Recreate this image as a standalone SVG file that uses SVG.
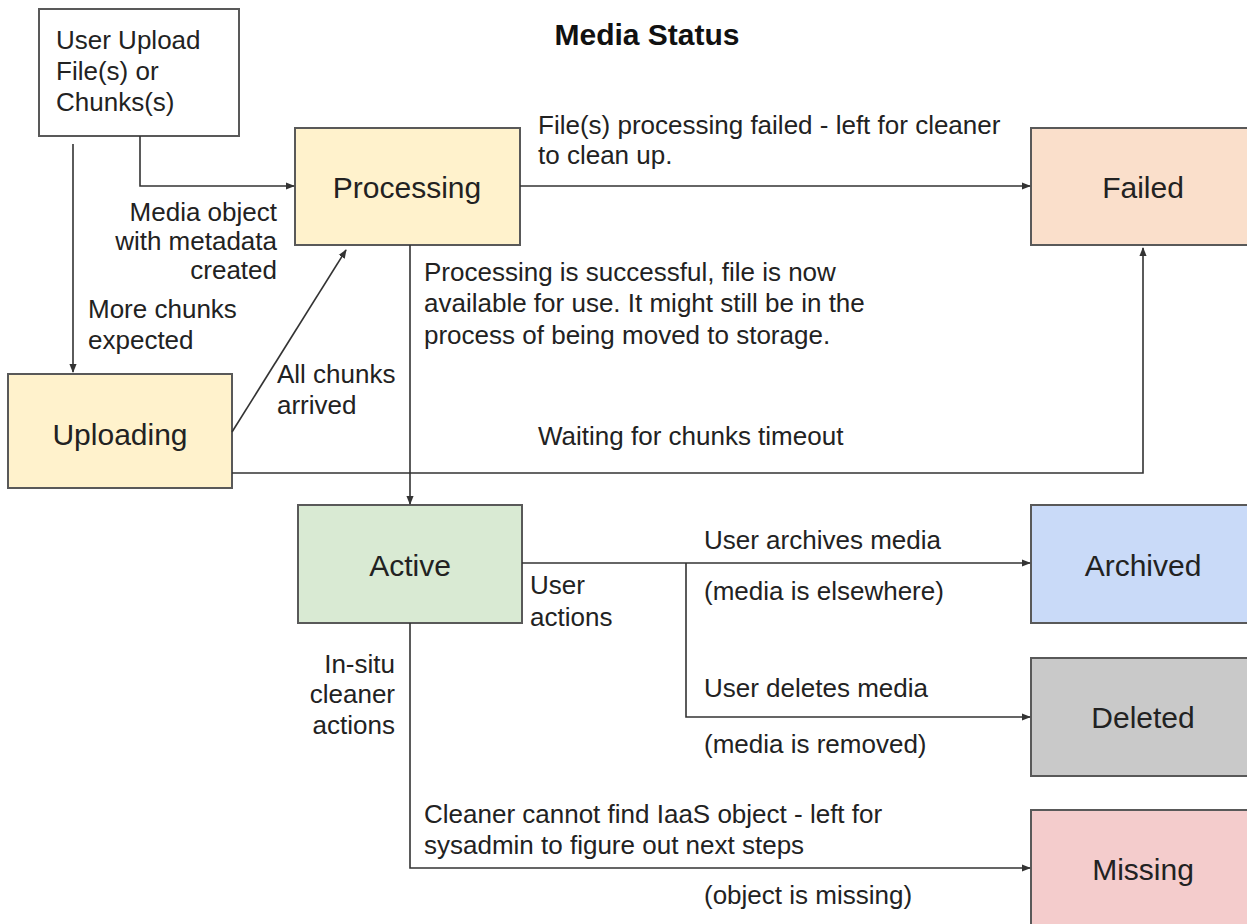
<svg xmlns="http://www.w3.org/2000/svg" width="1247" height="924" viewBox="0 0 1247 924">
<defs>
<marker id="arr" viewBox="0 0 10 10" refX="9" refY="5" markerWidth="9" markerHeight="9" markerUnits="userSpaceOnUse" orient="auto">
<path d="M0,1 L10,5 L0,9 z" fill="#333"/>
</marker>
<style>
.box{stroke:#595959;stroke-width:2}
.lbl{font-family:"Liberation Sans",Arial,sans-serif;font-size:30px;fill:#222;text-anchor:middle;dominant-baseline:central}
.t{font-family:"Liberation Sans",Arial,sans-serif;font-size:26px;fill:#222}
.r{text-anchor:end}
.c{fill:none;stroke:#333;stroke-width:1.6;marker-end:url(#arr)}
</style>
</defs>
<rect width="1247" height="924" fill="#fff"/>
<text x="647" y="45" font-family="Liberation Sans,Arial,sans-serif" font-size="30" font-weight="bold" fill="#111" text-anchor="middle">Media Status</text>
<g id="upload">
<rect class="box" x="39" y="9" width="200" height="127" fill="#fff"/>
<text class="t" x="56" y="49">User Upload</text>
<text class="t" x="56" y="80">File(s) or</text>
<text class="t" x="56" y="111">Chunks(s)</text>
</g>
<g id="processing"><rect class="box" x="295" y="128" width="225" height="117" fill="#fff2cc"/><text class="lbl" x="407" y="187">Processing</text></g>
<g id="failed"><rect class="box" x="1031" y="128" width="230" height="117" fill="#fadfcb"/><text class="lbl" x="1143" y="187">Failed</text></g>
<g id="uploading"><rect class="box" x="8" y="374" width="224" height="114" fill="#fff2cc"/><text class="lbl" x="120" y="434">Uploading</text></g>
<g id="active"><rect class="box" x="298" y="505" width="224" height="118" fill="#d9ead3"/><text class="lbl" x="410" y="565">Active</text></g>
<g id="archived"><rect class="box" x="1031" y="505" width="230" height="118" fill="#c9daf8"/><text class="lbl" x="1143" y="565">Archived</text></g>
<g id="deleted"><rect class="box" x="1031" y="658" width="230" height="118" fill="#c9c9c9"/><text class="lbl" x="1143" y="717">Deleted</text></g>
<g id="missing"><rect class="box" x="1031" y="810" width="230" height="130" fill="#f4cccc"/><text class="lbl" x="1143" y="869">Missing</text></g>
<g id="connectors">
<path class="c" d="M140,136 V186 H294"/>
<path class="c" d="M73,144 V372"/>
<path class="c" d="M232,432 L346,250"/>
<path class="c" d="M520,186 H1030"/>
<path class="c" d="M232,473 H1143 V248"/>
<path class="c" d="M410,245 V504"/>
<path class="c" d="M522,563 H1030"/>
<path class="c" d="M686,563 V717 H1030"/>
<path class="c" d="M410,623 V868 H1030"/>
</g>
<g id="labels">
<text class="t r" x="277" y="221">Media object</text>
<text class="t r" x="277" y="250">with metadata</text>
<text class="t r" x="277" y="279">created</text>
<text class="t" x="88" y="318">More chunks</text>
<text class="t" x="88" y="349">expected</text>
<text class="t" x="277" y="383">All chunks</text>
<text class="t" x="277" y="414">arrived</text>
<text class="t" x="538" y="134">File(s) processing failed - left for cleaner</text>
<text class="t" x="538" y="164">to clean up.</text>
<text class="t" x="424" y="281">Processing is successful, file is now</text>
<text class="t" x="424" y="312">available for use. It might still be in the</text>
<text class="t" x="424" y="344">process of being moved to storage.</text>
<text class="t" x="538" y="445">Waiting for chunks timeout</text>
<text class="t" x="530" y="594">User</text>
<text class="t" x="530" y="626">actions</text>
<text class="t" x="704" y="549">User archives media</text>
<text class="t" x="704" y="600">(media is elsewhere)</text>
<text class="t" x="704" y="697">User deletes media</text>
<text class="t" x="704" y="753">(media is removed)</text>
<text class="t r" x="395" y="673">In-situ</text>
<text class="t r" x="395" y="703">cleaner</text>
<text class="t r" x="395" y="734">actions</text>
<text class="t" x="424" y="823">Cleaner cannot find IaaS object - left for</text>
<text class="t" x="424" y="854">sysadmin to figure out next steps</text>
<text class="t" x="704" y="904">(object is missing)</text>
</g>
</svg>
